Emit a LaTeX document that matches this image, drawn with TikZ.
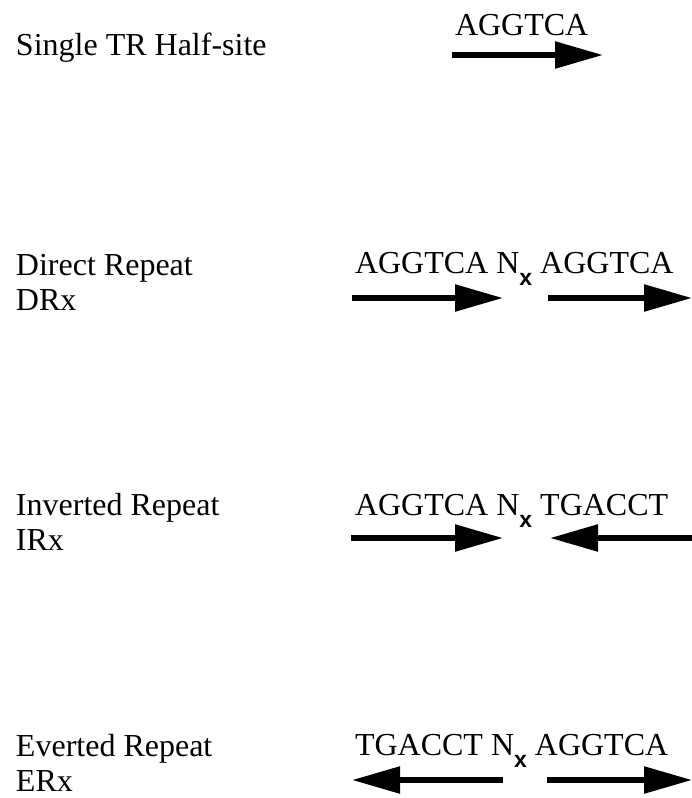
\documentclass[tikz,border=0pt]{standalone}
\usepackage{fontspec}
\setmainfont{Liberation Serif}
\newfontfamily\subxfont{Liberation Sans}
\usetikzlibrary{arrows.meta}
\usetikzlibrary{positioning}

% spacer subscript between the two half-sites
\newcommand{\nx}{N\raisebox{-12pt}{\fontsize{23}{23}\selectfont\subxfont\bfseries x}}

\begin{document}
\begin{tikzpicture}[x=1pt,y=-1pt]
    \tikzstyle{every node}=[inner sep=0pt,outer sep=0pt,font=\fontsize{32}{36}\selectfont]
    \tikzstyle{lbl}=[anchor=base west]
    \tikzstyle{seq}=[anchor=base west]
    \tikzstyle{site}=[line width=5.5pt,-{Triangle[length=48pt,width=26pt]}]

    \useasboundingbox (0,0) rectangle (692,798);

    % single half-site
    \node[lbl] (single) at (16,55) {Single TR Half-site} ;
    \node[seq] (halfseq) at (455,35) {AGGTCA} ;
    \coordinate (h0) at (452,55) ;
    \coordinate (h1) at (603,55) ;
    \draw[site] (h0) -- (h1) ;

    % direct repeat
    \node[lbl] (direct) at (16,275) {Direct Repeat} ;
    \node[lbl] (drx) at (16,310) {DRx} ;
    \node[seq] (drseq) at (355,273) {AGGTCA \nx{} AGGTCA} ;
    \coordinate (d0) at (352,298) ;
    \coordinate (d1) at (503,298) ;
    \coordinate (d2) at (548,298) ;
    \coordinate (d3) at (692,298) ;
    \draw[site] (d0) -- (d1) ;
    \draw[site] (d2) -- (d3) ;

    % inverted repeat
    \node[lbl] (inverted) at (16,515) {Inverted Repeat} ;
    \node[lbl] (irx) at (16,550) {IRx} ;
    \node[seq] (irseq) at (355,515) {AGGTCA \nx{} TGACCT} ;
    \coordinate (i0) at (351,538) ;
    \coordinate (i1) at (503,538) ;
    \coordinate (i2) at (550,538) ;
    \coordinate (i3) at (692,538) ;
    \draw[site] (i0) -- (i1) ;
    \draw[site] (i3) -- (i2) ;

    % everted repeat
    \node[lbl] (everted) at (16,756) {Everted Repeat} ;
    \node[lbl] (erx) at (16,791) {ERx} ;
    \node[seq] (erseq) at (355,755) {TGACCT \nx{} AGGTCA} ;
    \coordinate (e0) at (352,780) ;
    \coordinate (e1) at (503,780) ;
    \coordinate (e2) at (547,780) ;
    \coordinate (e3) at (692,780) ;
    \draw[site] (e1) -- (e0) ;
    \draw[site] (e2) -- (e3) ;

\end{tikzpicture}
\end{document}
